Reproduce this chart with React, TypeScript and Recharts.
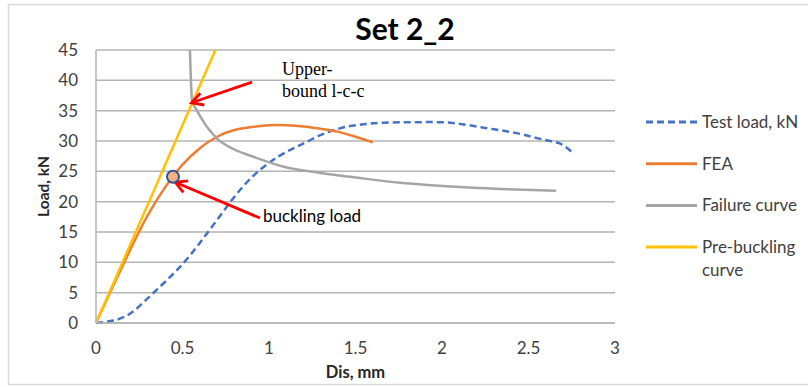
import React from 'react';
import {
  LineChart,
  Line,
  XAxis,
  YAxis,
  CartesianGrid,
  ReferenceLine,
  ReferenceDot,
  Legend,
  Label,
} from 'recharts';

// ---- data ----
const testDis = [0, 0.1, 0.2, 0.3, 0.4, 0.5, 0.6, 0.7, 0.8, 0.9, 1.0, 1.1, 1.2, 1.3, 1.4, 1.5, 1.66, 1.85, 2.05, 2.24, 2.43, 2.59, 2.68, 2.75];
const testLoad = [0, 0.4, 1.6, 4.1, 6.8, 9.7, 13.2, 17.0, 20.8, 24.0, 26.4, 28.2, 29.6, 31.0, 32.0, 32.6, 33.0, 33.1, 33.0, 32.2, 31.3, 30.2, 29.6, 28.2];

const feaDis = [0, 0.1, 0.2, 0.3, 0.4, 0.45, 0.5, 0.6, 0.7, 0.8, 0.9, 1.0, 1.1, 1.2, 1.3, 1.4, 1.5, 1.6];
const feaLoad = [0, 6.2, 12.2, 17.8, 22.4, 24.3, 26.1, 28.8, 30.7, 31.8, 32.3, 32.6, 32.6, 32.4, 32.0, 31.5, 30.7, 29.8];

const failDis = [0.543, 0.546, 0.55, 0.556, 0.58, 0.6, 0.65, 0.7, 0.8, 0.9, 1.08, 1.28, 1.47, 1.76, 2.05, 2.34, 2.66];
const failLoad = [45, 42, 39, 36.6, 35.2, 34.2, 32.0, 30.4, 28.6, 27.5, 25.8, 24.8, 24.1, 23.1, 22.5, 22.1, 21.8];

const preDis = [0, 0.69];
const preLoad = [0, 45];

const xTicks = [0, 0.5, 1, 1.5, 2, 2.5, 3];
const yTicks = [0, 5, 10, 15, 20, 25, 30, 35, 40, 45];

const bucklingPoint = { x: 0.445, y: 24.1 };
const upperArrow = [{ x: 0.902, y: 39.7 }, { x: 0.552, y: 36.3 }];
const bucklingArrow = [{ x: 0.948, y: 17.3 }, { x: 0.458, y: 23.2 }];

const zip = (xs: number[], ys: number[]) => xs.map((x, i) => ({ x, y: ys[i] }));
const testData = zip(testDis, testLoad);
const feaData = zip(feaDis, feaLoad);
const failData = zip(failDis, failLoad);
const preData = zip(preDis, preLoad);

const FONT = 'Lato, "Open Sans", sans-serif';
const C_TEST = '#4472C4';
const C_FEA = '#ED7D31';
const C_FAIL = '#A5A5A5';
const C_PRE = '#FFC000';

const legendItems = [
  { lines: ['Test load, kN'], color: C_TEST, dash: '7 4' },
  { lines: ['FEA'], color: C_FEA, dash: undefined },
  { lines: ['Failure curve'], color: C_FAIL, dash: undefined },
  { lines: ['Pre-buckling', 'curve'], color: C_PRE, dash: undefined },
];

const renderLegend = () => (
  <svg width={168} height={200} style={{ display: 'block' }}>
    {legendItems.map((it, i) => {
      const cy = 22 + i * 41.7;
      return (
        <g key={i}>
          <line x1={6} x2={57} y1={cy} y2={cy} stroke={it.color} strokeWidth={3} strokeDasharray={it.dash} />
          {it.lines.map((t, j) => (
            <text key={j} x={62} y={cy + 6 + j * 23} fontFamily={FONT} fontSize={17} fill="#404040">
              {t}
            </text>
          ))}
        </g>
      );
    })}
  </svg>
);

const arrowShape = (props: any) => {
  const { x1, y1, x2, y2 } = props;
  const ang = Math.atan2(y2 - y1, x2 - x1);
  const len = 13;
  const spread = 0.5;
  const ax = x2 - len * Math.cos(ang - spread);
  const ay = y2 - len * Math.sin(ang - spread);
  const bx = x2 - len * Math.cos(ang + spread);
  const by = y2 - len * Math.sin(ang + spread);
  return (
    <g>
      <line x1={x1} y1={y1} x2={x2} y2={y2} stroke="#FF0000" strokeWidth={2.8} />
      <polyline points={`${ax},${ay} ${x2},${y2} ${bx},${by}`} fill="none" stroke="#FF0000" strokeWidth={2.8} strokeLinejoin="miter" />
    </g>
  );
};

export default function App() {
  return (
    <div style={{ position: 'absolute', left: 0, top: 0, width: 808, height: 387, background: '#fff' }}>
      <LineChart
        width={808}
        height={387}
        margin={{ top: 50, right: 193, bottom: 34, left: 0 }}
        style={{ position: 'absolute', left: 0, top: 0 }}
      >
        <CartesianGrid vertical={false} stroke="#B4B4B4" strokeWidth={1.5} />
        <XAxis
          type="number"
          dataKey="x"
          domain={[0, 3]}
          ticks={xTicks}
          height={30}
          tickLine={false}
          tickSize={0}
          tickMargin={19}
          axisLine={{ stroke: '#B4B4B4', strokeWidth: 1.5 }}
          tick={{ fontFamily: FONT, fontSize: 17, fill: '#404040' }}
          allowDuplicatedCategory={false}
        >
          <Label value="Dis, mm" position="center" dy={34} style={{ fontFamily: FONT, fontSize: 16.5, fontWeight: 700, fill: '#262626' }} />
        </XAxis>
        <YAxis
          type="number"
          dataKey="y"
          domain={[0, 45]}
          ticks={yTicks}
          width={96}
          tickLine={false}
          tickSize={0}
          tickMargin={18}
          axisLine={{ stroke: '#B4B4B4', strokeWidth: 1.5 }}
          tick={{ fontFamily: FONT, fontSize: 17, fill: '#404040' }}
        >
          <Label value="Load, kN" angle={-90} position="center" dx={-5} style={{ fontFamily: FONT, fontSize: 15.5, fontWeight: 700, fill: '#262626' }} />
        </YAxis>
        <Legend
          layout="horizontal"
          verticalAlign="middle"
          align="center"
          content={renderLegend}
          wrapperStyle={{ position: 'absolute', left: 640, top: 100, width: 168, height: 200 }}
        />
        <Line data={testData} dataKey="y" name="Test load, kN" type="natural" stroke={C_TEST} strokeWidth={2.5} strokeDasharray="7 4" dot={false} isAnimationActive={false} />
        <Line data={feaData} dataKey="y" name="FEA" type="natural" stroke={C_FEA} strokeWidth={2.5} dot={false} isAnimationActive={false} />
        <Line data={failData} dataKey="y" name="Failure curve" type="monotone" stroke={C_FAIL} strokeWidth={2.5} dot={false} isAnimationActive={false} />
        <Line data={preData} dataKey="y" name="Pre-buckling curve" type="linear" stroke={C_PRE} strokeWidth={2.5} dot={false} isAnimationActive={false} />
        <ReferenceLine segment={upperArrow} shape={arrowShape} ifOverflow="visible" />
        <ReferenceLine segment={bucklingArrow} shape={arrowShape} ifOverflow="visible" />
        <ReferenceDot x={bucklingPoint.x} y={bucklingPoint.y} r={6} fill="#F4B183" stroke="#2F5597" strokeWidth={2} ifOverflow="visible" />
      </LineChart>
      <svg width={808} height={387} style={{ position: 'absolute', left: 0, top: 0, pointerEvents: 'none' }}>
        <rect x={8.5} y={4.5} width={820} height={380} fill="none" stroke="#D9D9D9" strokeWidth={1.5} />
        <text x={405} y={40} textAnchor="middle" fontFamily={FONT} fontWeight={700} fontSize={30} fill="#000">
          Set 2_2
        </text>
        <text x={282} y={75} fontFamily='"Liberation Serif", "DejaVu Serif", serif' fontSize={18} fill="#000">
          Upper-
        </text>
        <text x={282} y={97} fontFamily='"Liberation Serif", "DejaVu Serif", serif' fontSize={18} fill="#000">
          bound l-c-c
        </text>
        <text x={263} y={222} fontFamily={FONT} fontSize={17} fill="#000">
          buckling load
        </text>
      </svg>
    </div>
  );
}
